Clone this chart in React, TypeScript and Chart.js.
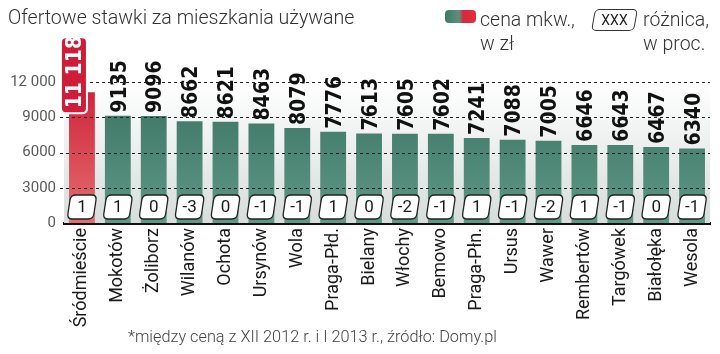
import React, { useEffect, useRef } from "react";
import { Chart, registerables } from "chart.js";

Chart.register(...registerables);

const categories = [
  "Śródmieście", "Mokotów", "Żoliborz", "Wilanów", "Ochota", "Ursynów", "Wola",
  "Praga-Płd.", "Bielany", "Włochy", "Bemowo", "Praga-Płn.", "Ursus", "Wawer",
  "Rembertów", "Targówek", "Białołęka", "Wesola",
];
const prices = [11118, 9135, 9096, 8662, 8621, 8463, 8079, 7776, 7613, 7605, 7602, 7241, 7088, 7005, 6646, 6643, 6467, 6340];
const priceLabels = ["11 118", "9135", "9096", "8662", "8621", "8463", "8079", "7776", "7613", "7605", "7602", "7241", "7088", "7005", "6646", "6643", "6467", "6340"];
const diffs = ["1", "1", "0", "-3", "0", "-1", "-1", "1", "0", "-2", "-1", "1", "-1", "-2", "1", "-1", "0", "-1"];
const yTickValues = [0, 3000, 6000, 9000, 12000];
const yTickLabels = ["0", "3000", "6000", "9000", "12 000"];

const TEXT_FONT = "Roboto, 'Open Sans', sans-serif";
const NUM_FONT = "'DejaVu Sans', sans-serif";

function roundRectPath(ctx: CanvasRenderingContext2D, x: number, y: number, w: number, h: number, r: number) {
  ctx.beginPath();
  ctx.moveTo(x + r, y);
  ctx.lineTo(x + w - r, y);
  ctx.quadraticCurveTo(x + w, y, x + w, y + r);
  ctx.lineTo(x + w, y + h - r);
  ctx.quadraticCurveTo(x + w, y + h, x + w - r, y + h);
  ctx.lineTo(x + r, y + h);
  ctx.quadraticCurveTo(x, y + h, x, y + h - r);
  ctx.lineTo(x, y + r);
  ctx.quadraticCurveTo(x, y, x + r, y);
  ctx.closePath();
}

const bgPlugin = {
  id: "bgGrad",
  beforeDatasetsDraw(chart: any) {
    const { ctx, chartArea } = chart;
    const g = ctx.createLinearGradient(0, chartArea.top, 0, chartArea.bottom);
    g.addColorStop(0, "rgba(255,255,255,1)");
    g.addColorStop(1, "rgba(214,221,218,1)");
    ctx.save();
    ctx.fillStyle = g;
    ctx.fillRect(chartArea.left, chartArea.top - 10, chartArea.right - chartArea.left, chartArea.bottom - chartArea.top + 10);
    ctx.restore();
  },
  afterDatasetsDraw(chart: any) {
    const { ctx, chartArea } = chart;
    const yScale = chart.scales.y;
    ctx.save();
    ctx.strokeStyle = "#222222";
    ctx.lineWidth = 1;
    ctx.setLineDash([3, 3]);
    yTickValues.forEach((v) => {
      if (v === 0) return;
      const y = Math.round(yScale.getPixelForValue(v)) + 0.5;
      ctx.beginPath();
      ctx.moveTo(chartArea.left - 4, y);
      ctx.lineTo(chartArea.right, y);
      ctx.stroke();
    });
    ctx.restore();
  },
};

const labelPlugin = {
  id: "labels",
  afterDraw(chart: any) {
    const { ctx } = chart;
    const meta = chart.getDatasetMeta(0);
    const yScale = chart.scales.y;
    ctx.save();
    meta.data.forEach((bar: any, i: number) => {
      const x = bar.x;
      const top = bar.y;
      ctx.save();
      if (i === 0) {
        const bw = 26;
        const bx = x - 8 - bw / 2;
        const by = top - 55;
        const bh = 76;
        ctx.fillStyle = "#cf1d39";
        ctx.strokeStyle = "#ffffff";
        ctx.lineWidth = 2;
        roundRectPath(ctx, bx, by, bw, bh, 5);
        ctx.fill();
        ctx.stroke();
        ctx.translate(bx + bw / 2 + 1, by + bh - 5);
        ctx.rotate(-Math.PI / 2);
        ctx.scale(0.86, 1);
        ctx.fillStyle = "#ffffff";
        ctx.font = `bold 22px ${NUM_FONT}`;
        ctx.textAlign = "left";
        ctx.textBaseline = "middle";
        ctx.fillText(priceLabels[i], 0, 0);
      } else {
        ctx.translate(x + 2, top - 3);
        ctx.rotate(-Math.PI / 2);
        ctx.scale(0.86, 1);
        ctx.fillStyle = "#111111";
        ctx.font = `bold 22px ${NUM_FONT}`;
        ctx.textAlign = "left";
        ctx.textBaseline = "middle";
        ctx.fillText(priceLabels[i], 0, 0);
      }
      ctx.restore();

      const cy = yScale.bottom - 16;
      ctx.save();
      ctx.translate(x, cy);
      ctx.transform(1, 0, -0.15, 1, 0, 0);
      roundRectPath(ctx, -13, -12, 26, 24, 5);
      ctx.fillStyle = "#ffffff";
      ctx.fill();
      ctx.strokeStyle = "#222222";
      ctx.lineWidth = 1.3;
      ctx.stroke();
      ctx.restore();
      ctx.save();
      ctx.fillStyle = "#1a1a1a";
      ctx.font = `17px ${TEXT_FONT}`;
      ctx.textAlign = "center";
      ctx.textBaseline = "middle";
      ctx.fillText(diffs[i], x, cy + 1);
      ctx.restore();
    });
    ctx.restore();
  },
};

export default function App() {
  const ref = useRef<HTMLCanvasElement | null>(null);
  useEffect(() => {
    if (!ref.current) return;
    const chart = new Chart(ref.current, {
      type: "bar",
      data: {
        labels: categories,
        datasets: [
          {
            data: prices,
            backgroundColor: (c: any) => {
              const ch = c.chart;
              const area = ch.chartArea;
              if (!area) return "#4a8572";
              const g = ch.ctx.createLinearGradient(0, area.top, 0, area.bottom);
              if (c.dataIndex === 0) {
                g.addColorStop(0, "#d01f37");
                g.addColorStop(1, "#e2706f");
              } else {
                g.addColorStop(0, "#3b7262");
                g.addColorStop(1, "#5f9886");
              }
              return g;
            },
            borderWidth: 0,
            barPercentage: 0.72,
            categoryPercentage: 1,
          },
        ],
      },
      options: {
        responsive: false,
        animation: false,
        maintainAspectRatio: false,
        layout: { padding: { top: 82, right: 10, left: 0, bottom: 0 } },
        plugins: { legend: { display: false }, tooltip: { enabled: false }, title: { display: false } },
        scales: {
          x: {
            grid: { display: false, drawTicks: false },
            border: { display: true, color: "#111111", width: 3 },
            ticks: {
              minRotation: 90,
              maxRotation: 90,
              autoSkip: false,
              padding: 5,
              color: "#1a1a1a",
              font: { family: TEXT_FONT, size: 18 },
            },
            afterFit: (s: any) => {
              s.height = 131;
            },
          },
          y: {
            min: 0,
            max: 12000,
            afterBuildTicks: (s: any) => {
              s.ticks = yTickValues.map((v) => ({ value: v }));
            },
            ticks: {
              padding: 8,
              color: "#5a5a5a",
              font: { family: TEXT_FONT, size: 15 },
              callback: (v: any) => {
                const idx = yTickValues.indexOf(Number(v));
                return idx >= 0 ? yTickLabels[idx] : "";
              },
            },
            grid: { display: false, drawTicks: false },
            border: { display: false },
            afterFit: (s: any) => {
              s.width = 64;
            },
          },
        },
      },
      plugins: [bgPlugin, labelPlugin],
    });
    return () => chart.destroy();
  }, []);

  return (
    <div style={{ position: "absolute", left: 0, top: 0, width: 720, height: 354, background: "#fff", overflow: "hidden" }}>
      <canvas ref={ref} width={720} height={354} style={{ position: "absolute", left: 0, top: 0 }} />
      <div style={{ position: "absolute", left: 8, top: 6, font: `300 19.6px ${TEXT_FONT}`, color: "#333", whiteSpace: "nowrap" }}>
        Ofertowe stawki za mieszkania używane
      </div>
      <div
        style={{
          position: "absolute",
          left: 445,
          top: 10,
          width: 31,
          height: 13,
          borderRadius: 4,
          background: "linear-gradient(to right, #3e7a66 0%, #5d8f7f 45%, #d9263b 60%, #e0303f 100%)",
        }}
      />
      <div style={{ position: "absolute", left: 480, top: 8, font: `300 19.5px ${TEXT_FONT}`, color: "#333", lineHeight: "24px", whiteSpace: "nowrap" }}>
        cena mkw.,
        <br />w zł
      </div>
      <div
        style={{
          position: "absolute",
          left: 593,
          top: 9,
          width: 43,
          height: 22,
          border: "1.3px solid #333",
          borderRadius: 5,
          transform: "skewX(-10deg)",
          boxSizing: "border-box",
        }}
      />
      <div style={{ position: "absolute", left: 593, top: 9, width: 43, height: 22, textAlign: "center", font: `14px ${TEXT_FONT}`, lineHeight: "22px", color: "#222" }}>
        XXX
      </div>
      <div style={{ position: "absolute", left: 643, top: 8, font: `300 19.5px ${TEXT_FONT}`, color: "#333", lineHeight: "24px", whiteSpace: "nowrap" }}>
        różnica,
        <br />w proc.
      </div>
      <div style={{ position: "absolute", left: 128, top: 327, font: `300 16.3px ${TEXT_FONT}`, color: "#444", whiteSpace: "nowrap" }}>
        *między ceną z XII 2012 r. i I 2013 r., źródło: Domy.pl
      </div>
    </div>
  );
}
